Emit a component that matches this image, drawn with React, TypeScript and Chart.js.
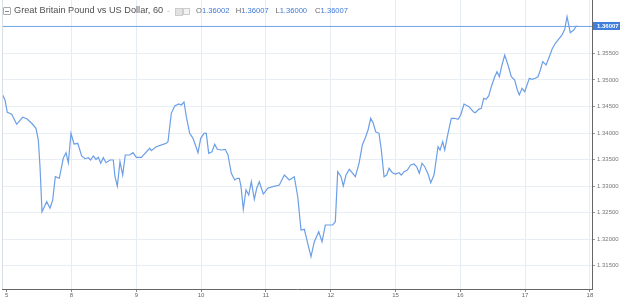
import React, { useEffect, useRef } from "react";
import { Chart, registerables } from "chart.js";

Chart.register(...registerables);

const dayLabels = ["5", "8", "9", "10", "11", "12", "15", "16", "17", "18"];
const yTickValues = [1.315, 1.32, 1.325, 1.33, 1.335, 1.34, 1.345, 1.35, 1.355];
const lastPrice = 1.36007;
const ohlc = [
  { k: "O", v: "1.36002" },
  { k: "H", v: "1.36007" },
  { k: "L", v: "1.36000" },
  { k: "C", v: "1.36007" },
];

// session position (day index, fractional) of each hourly sample
const times = [
  -0.062, -0.026, 0.009, 0.077, 0.154, 0.247, 0.309, 0.386, 0.452, 0.488, 0.514, 0.545, 0.617, 0.668, 0.71, 0.75,
  0.812, 0.873, 0.915, 0.951, 0.992, 1.039, 1.096, 1.157, 1.208, 1.259, 1.296, 1.336, 1.378, 1.414, 1.451, 1.491,
  1.532, 1.594, 1.645, 1.671, 1.707, 1.748,
  1.79, 1.83, 1.898, 1.949, 2.0, 2.077, 2.207, 2.231, 2.309, 2.412, 2.463, 2.489, 2.54, 2.593, 2.654, 2.694, 2.736,
  2.772, 2.824, 2.875, 2.952, 2.994, 3.045, 3.08, 3.117, 3.168, 3.21, 3.25, 3.312, 3.373, 3.415, 3.466, 3.519, 3.559,
  3.59, 3.616, 3.651, 3.693, 3.735, 3.775, 3.821, 3.858, 3.898, 3.96, 4.028, 4.105, 4.207, 4.284, 4.361, 4.438, 4.491,
  4.542, 4.593, 4.645, 4.696, 4.747, 4.815, 4.866, 4.917, 5.031, 5.071, 5.108, 5.159, 5.194, 5.236, 5.287, 5.34, 5.38,
  5.437, 5.488, 5.54, 5.576, 5.617, 5.657, 5.694, 5.745, 5.781, 5.823, 5.864, 5.9, 5.951, 6.003, 6.054, 6.09, 6.131,
  6.182, 6.235, 6.285, 6.327, 6.367, 6.409, 6.451, 6.502, 6.543, 6.594, 6.656, 6.687, 6.728, 6.759, 6.81, 6.861, 6.913,
  6.965, 7.006, 7.057, 7.134, 7.201,
  7.231, 7.284, 7.324, 7.361, 7.397, 7.438, 7.478, 7.531, 7.566, 7.602, 7.643, 7.685, 7.736, 7.787, 7.839, 7.88, 7.91,
  7.952, 7.994, 8.029, 8.065, 8.106, 8.157, 8.199, 8.235, 8.272, 8.323, 8.373, 8.415, 8.466, 8.528, 8.569, 8.611,
  8.647, 8.697, 8.75, 8.785, 8.816,
];

const prices = [
  1.34716, 1.34621, 1.3439, 1.34352, 1.34164, 1.34296, 1.34269, 1.34183, 1.34089, 1.33868, 1.33365, 1.32518, 1.32706,
  1.32582, 1.32738, 1.33177, 1.33147, 1.33524, 1.33629, 1.33441, 1.33994, 1.33793, 1.33806, 1.33567, 1.33516, 1.33535,
  1.33492, 1.33567, 1.33505, 1.33542, 1.33429, 1.33535, 1.33441, 1.33492, 1.33492, 1.33177, 1.33002, 1.3346,
  1.33209, 1.33586, 1.33586, 1.33629, 1.33542, 1.33542, 1.33712, 1.33667, 1.33742, 1.33787, 1.33806, 1.33836, 1.34371,
  1.34508, 1.34546, 1.34527, 1.34584, 1.34307, 1.33994, 1.339, 1.33629, 1.339, 1.33994, 1.33994, 1.33618, 1.33648,
  1.33787, 1.33693, 1.3368, 1.33693, 1.33586, 1.33241, 1.33115, 1.33147,
  1.33147, 1.32989, 1.32563, 1.32927, 1.32832, 1.33083, 1.32751, 1.32959, 1.33083, 1.32851, 1.32959, 1.32989, 1.33021,
  1.33209, 1.33115, 1.33177, 1.328, 1.32173, 1.32186, 1.31923, 1.3167, 1.31953, 1.32141, 1.31953, 1.32267, 1.32267,
  1.3233, 1.33271, 1.33177, 1.33002, 1.33209, 1.33316, 1.33241, 1.33177,
  1.33429, 1.33774, 1.3393, 1.34057, 1.34277, 1.34183, 1.34024, 1.33994, 1.3368, 1.33177, 1.33209, 1.33335, 1.33252,
  1.33228, 1.33252, 1.33209, 1.33271, 1.33303, 1.33397, 1.33416, 1.33365, 1.33241, 1.33429, 1.33365, 1.33228, 1.33064,
  1.33209, 1.33742, 1.3368, 1.33836, 1.3368, 1.33994, 1.34277, 1.34277, 1.34258, 1.34339, 1.34546, 1.34495, 1.34401,
  1.34382, 1.34446, 1.34465, 1.34654, 1.34635, 1.34697, 1.34872, 1.3506, 1.35154, 1.3506, 1.35281, 1.35469, 1.35281,
  1.3506, 1.34998, 1.3481, 1.34716, 1.34842, 1.34778, 1.34904, 1.3503, 1.35011, 1.3503, 1.3506, 1.35186, 1.35343,
  1.35281, 1.35437, 1.35576, 1.35689, 1.35783, 1.35846, 1.35953, 1.3619, 1.35889, 1.3594, 1.36007, 1.36007,
];

const X_MIN = -0.0725;
const X_MAX = 9.032;
const Y_MIN = 1.31062;
const Y_MAX = 1.36505;

const FONT = "'Liberation Sans', Arial, sans-serif";

const extrasPlugin = {
  id: "extras",
  afterDraw(chart: any) {
    const { ctx, chartArea, scales } = chart;
    ctx.save();
    // left pane border
    ctx.strokeStyle = "#d9dee4";
    ctx.lineWidth = 1;
    ctx.beginPath();
    ctx.moveTo(chartArea.left + 0.5, chartArea.top);
    ctx.lineTo(chartArea.left + 0.5, chartArea.bottom);
    ctx.stroke();
    // last price label
    const y = scales.y.getPixelForValue(lastPrice);
    ctx.fillStyle = "#3f7fdb";
    ctx.fillRect(chartArea.right + 1, Math.round(y) - 4, chart.width - chartArea.right - 1, 8);
    ctx.fillStyle = "#ffffff";
    ctx.font = `bold 6px ${FONT}`;
    ctx.textBaseline = "middle";
    ctx.textAlign = "left";
    ctx.fillText(lastPrice.toFixed(5), chartArea.right + 5, Math.round(y));
    ctx.restore();
  },
};

export default function App() {
  const ref = useRef<HTMLCanvasElement>(null);
  useEffect(() => {
    if (!ref.current) return;
    const series = times.map((t, i) => ({ x: t, y: prices[i] }));
    const chart = new Chart(ref.current, {
      type: "line",
      data: {
        datasets: [
          {
            data: [
              { x: X_MIN, y: lastPrice },
              { x: X_MAX, y: lastPrice },
            ],
            borderColor: "#6ea3ea",
            borderWidth: 1,
            pointRadius: 0,
            tension: 0,
          },
          {
            data: series,
            borderColor: "#6b9fe7",
            borderWidth: 1.2,
            pointRadius: 0,
            tension: 0,
          },
        ],
      },
      options: {
        responsive: false,
        animation: false,
        devicePixelRatio: 1,
        layout: { padding: { left: 2, top: 0, right: 0, bottom: 0 } },
        plugins: { legend: { display: false }, tooltip: { enabled: false }, title: { display: false } },
        scales: {
          x: {
            type: "linear",
            min: X_MIN,
            max: X_MAX,
            afterBuildTicks: (scale: any) => {
              scale.ticks = dayLabels.map((_, i) => ({ value: i }));
            },
            afterFit: (scale: any) => {
              scale.height = 10;
              scale.paddingLeft = 0;
              scale.paddingRight = 0;
              scale.paddingTop = 0;
              scale.paddingBottom = 0;
            },
            ticks: {
              callback: (v: any) => dayLabels[Math.round(Number(v))] ?? "",
              font: { family: FONT, size: 6 },
              color: "#666",
              padding: 0,
              maxRotation: 0,
              autoSkip: false,
            },
            grid: {
              color: (c: any) => (c.index === 0 ? "rgba(0,0,0,0)" : "#e5ecf3"),
              tickColor: "#888",
              tickLength: 3,
            },
            border: { display: true, color: "#666", width: 1 },
          },
          y: {
            type: "linear",
            position: "right",
            min: Y_MIN,
            max: Y_MAX,
            afterBuildTicks: (scale: any) => {
              scale.ticks = yTickValues.map((v) => ({ value: v }));
            },
            afterFit: (scale: any) => {
              scale.width = 28;
              scale.paddingTop = 0;
              scale.paddingBottom = 0;
              scale.paddingLeft = 0;
              scale.paddingRight = 0;
            },
            ticks: {
              callback: (v: any) => Number(v).toFixed(5),
              font: { family: FONT, size: 6 },
              color: "#777",
              padding: 2,
              autoSkip: false,
            },
            grid: { color: "#e8eef4", tickColor: "#999", tickLength: 3 },
            border: { display: true, color: "#666", width: 1 },
          },
        },
      },
      plugins: [extrasPlugin],
    });
    return () => chart.destroy();
  }, []);

  return (
    <div style={{ position: "absolute", left: 0, top: 0, width: 620, height: 299, background: "#fff", fontFamily: FONT }}>
      <canvas ref={ref} width={620} height={299} style={{ display: "block" }} />
      <div
        style={{
          position: "absolute",
          left: 3,
          top: 7,
          width: 6,
          height: 6,
          border: "1px solid #aaa",
          borderRadius: 1,
        }}
      >
        <div style={{ position: "absolute", left: 1, top: 2.5, width: 4, height: 1, background: "#888" }} />
      </div>
      <div style={{ position: "absolute", left: 14, top: 5, fontSize: 9.2, lineHeight: "11px", color: "#505050", whiteSpace: "nowrap" }}>
        Great Britain Pound vs US Dollar, 60
      </div>
      <div style={{ position: "absolute", left: 167, top: 5, fontSize: 8, lineHeight: "11px", color: "#aaa" }}>-</div>
      <div style={{ position: "absolute", left: 175, top: 8, width: 6, height: 6, background: "#e2e2e2", border: "1px solid #ccc" }} />
      <div style={{ position: "absolute", left: 183, top: 8, width: 5, height: 5, background: "#f2f2f2", border: "1px solid #ccc" }} />
      {ohlc.map((o, i) => (
        <div
          key={o.k}
          style={{ position: "absolute", left: 196 + i * 39.7, top: 6, fontSize: 7.6, lineHeight: "10px", whiteSpace: "nowrap" }}
        >
          <span style={{ color: "#666" }}>{o.k}</span>
          <span style={{ color: "#3d78d6" }}>{o.v}</span>
        </div>
      ))}
    </div>
  );
}
